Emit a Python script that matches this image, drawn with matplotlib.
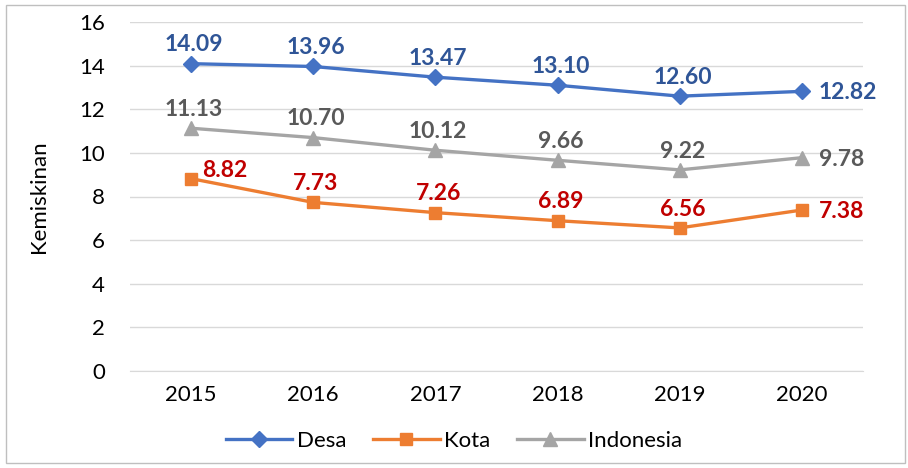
import matplotlib.pyplot as plt
from matplotlib.patches import Rectangle

plt.rcParams['font.family'] = ['Lato', 'DejaVu Sans']

years = ['2015', '2016', '2017', '2018', '2019', '2020']
desa = [14.09, 13.96, 13.47, 13.10, 12.60, 12.82]
kota = [8.82, 7.73, 7.26, 6.89, 6.56, 7.38]
indonesia = [11.13, 10.70, 10.12, 9.66, 9.22, 9.78]

fig = plt.figure(figsize=(9.08, 4.68), dpi=100)
ax = fig.add_axes([130 / 908, 1 - 371 / 468, (863 - 130) / 908, (371 - 22) / 468])

x = list(range(len(years)))
ax.plot(x, desa, color='#4472C4', lw=2.4, marker='D', ms=8, label='Desa')
ax.plot(x, kota, color='#ED7D31', lw=2.4, marker='s', ms=9, label='Kota')
ax.plot(x, indonesia, color='#A5A5A5', lw=2.4, marker='^', ms=10, label='Indonesia')

series = [(desa, '#2F5597'), (kota, '#C00000'), (indonesia, '#595959')]
for vals, col in series:
    for i, v in enumerate(vals):
        if i == len(vals) - 1:
            ax.annotate(f'{v:.2f}', (i, v), xytext=(12, -1), textcoords='offset points',
                        ha='left', va='center', color=col, fontsize=16.5, fontweight='bold')
        elif vals is kota and i == 0:
            ax.annotate(f'{v:.2f}', (i, v), xytext=(8, 6), textcoords='offset points',
                        ha='left', va='center', color=col, fontsize=16.5, fontweight='bold')
        else:
            ax.annotate(f'{v:.2f}', (i, v), xytext=(2, 6), textcoords='offset points',
                        ha='center', va='bottom', color=col, fontsize=16.5, fontweight='bold')

ax.set_xlim(-0.5, len(years) - 0.5)
ax.set_ylim(0, 16)
ax.set_yticks(range(0, 17, 2))
ax.set_xticks(x)
ax.set_xticklabels(years)
ax.yaxis.grid(True, color='#D9D9D9', lw=1)
ax.set_axisbelow(True)
for s in ['top', 'right', 'left']:
    ax.spines[s].set_visible(False)
ax.spines['bottom'].set_color('#D9D9D9')
ax.tick_params(length=0, labelsize=16, colors='black', pad=10)
ax.tick_params(axis='y', pad=18)
ax.set_ylabel('Kemiskinan', fontsize=16, labelpad=22)

fig.legend(loc='center', bbox_to_anchor=(0.5, 1 - 441 / 468), ncol=3, frameon=False,
           fontsize=16, handlelength=3, columnspacing=1.2, handletextpad=0.2)

fig.patches.append(Rectangle((6 / 908, 5 / 468), 899 / 908, 458 / 468, transform=fig.transFigure,
                             fill=False, edgecolor='#BFBFBF', lw=1))

fig.savefig('out.png', dpi=100)
